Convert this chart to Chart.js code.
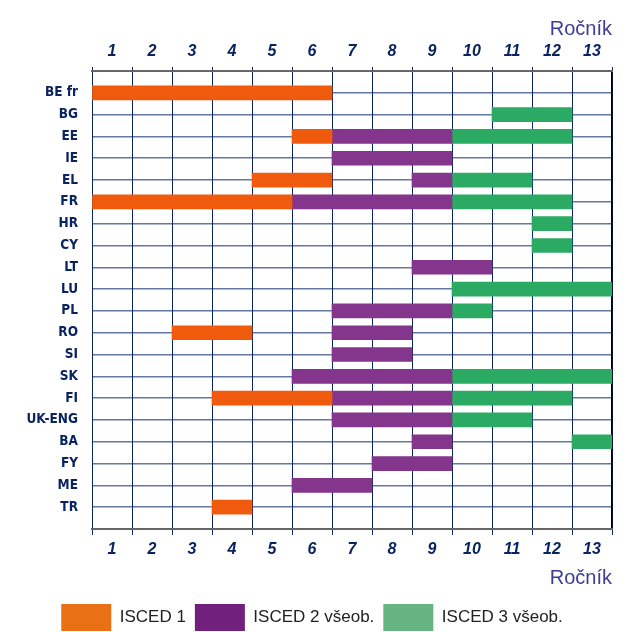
<!DOCTYPE html>
<html>
<head>
<meta charset="utf-8">
<script src="https://cdn.jsdelivr.net/npm/chart.js@4/dist/chart.umd.min.js"></script>
<style>
  body { margin: 0; background: #fff; }
  #wrap { width: 624px; height: 632px; }
</style>
</head>
<body>
<div id="wrap"><canvas id="gradeChart"></canvas></div>
<script>
const countries = ["BE fr", "BG", "EE", "IE", "EL", "FR", "HR", "CY", "LT", "LU",
  "PL", "RO", "SI", "SK", "FI", "UK-ENG", "BA", "FY", "ME", "TR"];
const grades = ["1", "2", "3", "4", "5", "6", "7", "8", "9", "10", "11", "12", "13"];

// first and last grade of each level per country, null = not taught
const isced1 = [[1, 6], null, [6, 6], null, [5, 6], [1, 5], null, null, null, null,
  null, [3, 4], null, null, [4, 6], null, null, null, null, [4, 4]];
const isced2 = [null, null, [7, 9], [7, 9], [9, 9], [6, 9], null, null, [9, 10], null,
  [7, 9], [7, 8], [7, 8], [6, 9], [7, 9], [7, 9], [9, 9], [8, 9], [6, 7], null];
const isced3 = [null, [11, 12], [10, 12], null, [10, 11], [10, 12], [12, 12], [12, 12], null, [10, 13],
  [10, 10], null, null, [10, 13], [10, 12], [10, 11], [13, 13], null, null, null];

const levelNames = ["ISCED 1", "ISCED 2 všeob.", "ISCED 3 všeob."];
const barColors = ["#f05a0c", "#84358c", "#2aaa62"];
const legendColors = ["#ea7016", "#71217d", "#67b483"];

const navy = "#0a2461";
const condensed = "'DejaVu Sans Condensed', 'Liberation Sans', sans-serif";
const sans = "'Liberation Sans', Arial, sans-serif";

function toBars(list) {
  return list.map((g, i) => g ? { x: [g[0] - 1, g[1]], y: i + 1 } : null).filter(Boolean);
}

function intTicks(from, to) {
  return scale => {
    const t = [];
    for (let v = from; v <= to; v++) t.push({ value: v });
    scale.ticks = t;
  };
}

const gradeLabel = v => (v < 13 ? grades[v] : "");
const isEdge = c => c.tick && (c.tick.value === 0 || c.tick.value === 21);

const ctx = document.getElementById("gradeChart").getContext("2d");
const chart = new Chart(ctx, {
  type: "bar",
  data: {
    datasets: [isced1, isced2, isced3].map((d, i) => ({
      label: levelNames[i],
      data: toBars(d),
      backgroundColor: barColors[i],
      borderWidth: 0,
      barThickness: 14,
      grouped: false
    }))
  },
  options: {
    indexAxis: "y",
    responsive: true,
    maintainAspectRatio: false,
    animation: false,
    layout: { padding: { left: 0, right: 0, top: 0, bottom: -9 } },
    scales: {
      y: {
        type: "linear",
        reverse: true,
        min: 0,
        max: 21,
        offset: false,
        afterBuildTicks: intTicks(0, 21),
        afterFit: s => { s.width = 92; },
        ticks: {
          autoSkip: false,
          padding: 14,
          color: navy,
          font: { family: condensed, weight: "bold", size: 13.5 },
          callback: v => countries[v - 1] || ""
        },
        grid: {
          offset: false,
          drawTicks: false,
          color: c => (isEdge(c) ? "#666666" : "#6478a0"),
          lineWidth: c => (isEdge(c) ? 2 : 1.5)
        },
        border: { color: navy, width: 1 }
      },
      yR: {
        type: "linear",
        position: "right",
        min: 0,
        max: 1,
        afterFit: s => { s.width = 12; },
        ticks: { display: false },
        grid: { display: false },
        border: { display: true, color: "#000", width: 1.5 }
      },
      x: {
        type: "linear",
        position: "bottom",
        min: 0,
        max: 13,
        afterBuildTicks: intTicks(0, 13),
        afterFit: s => { s.height = 66; },
        ticks: {
          autoSkip: false,
          maxRotation: 0,
          labelOffset: 20,
          padding: 5,
          color: navy,
          font: { family: sans, weight: "bold", style: "italic", size: 16 },
          callback: gradeLabel
        },
        grid: { color: navy, lineWidth: 1, tickLength: 6 },
        border: { color: "#666666", width: 2 },
        title: {
          display: true,
          text: "Ročník",
          align: "end",
          color: "#3d3d99",
          font: { family: sans, size: 20 },
          padding: { top: 0, bottom: 5 }
        }
      },
      x2: {
        type: "linear",
        position: "top",
        min: 0,
        max: 13,
        afterBuildTicks: intTicks(0, 13),
        afterFit: s => { s.height = 71; },
        ticks: {
          autoSkip: false,
          maxRotation: 0,
          labelOffset: 20,
          padding: 6,
          color: navy,
          font: { family: sans, weight: "bold", style: "italic", size: 16 },
          callback: gradeLabel
        },
        grid: { drawOnChartArea: false, color: navy, lineWidth: 1, tickLength: 4 },
        border: { color: "#666666", width: 2 },
        title: {
          display: true,
          text: "Ročník",
          align: "end",
          color: "#3d3d99",
          font: { family: sans, size: 20 },
          padding: { top: 17, bottom: 0 }
        }
      }
    },
    plugins: {
      tooltip: { enabled: false },
      legend: {
        position: "bottom",
        labels: {
          boxWidth: 50,
          boxHeight: 27,
          padding: 9,
          color: "#222222",
          font: { family: sans, size: 17 },
          generateLabels: c => {
            const items = Chart.defaults.plugins.legend.labels.generateLabels(c);
            items.forEach((it, i) => {
              it.fillStyle = legendColors[i];
              it.strokeStyle = legendColors[i];
              it.lineWidth = 0;
            });
            return items;
          }
        }
      }
    }
  }
});
</script>
</body>
</html>
